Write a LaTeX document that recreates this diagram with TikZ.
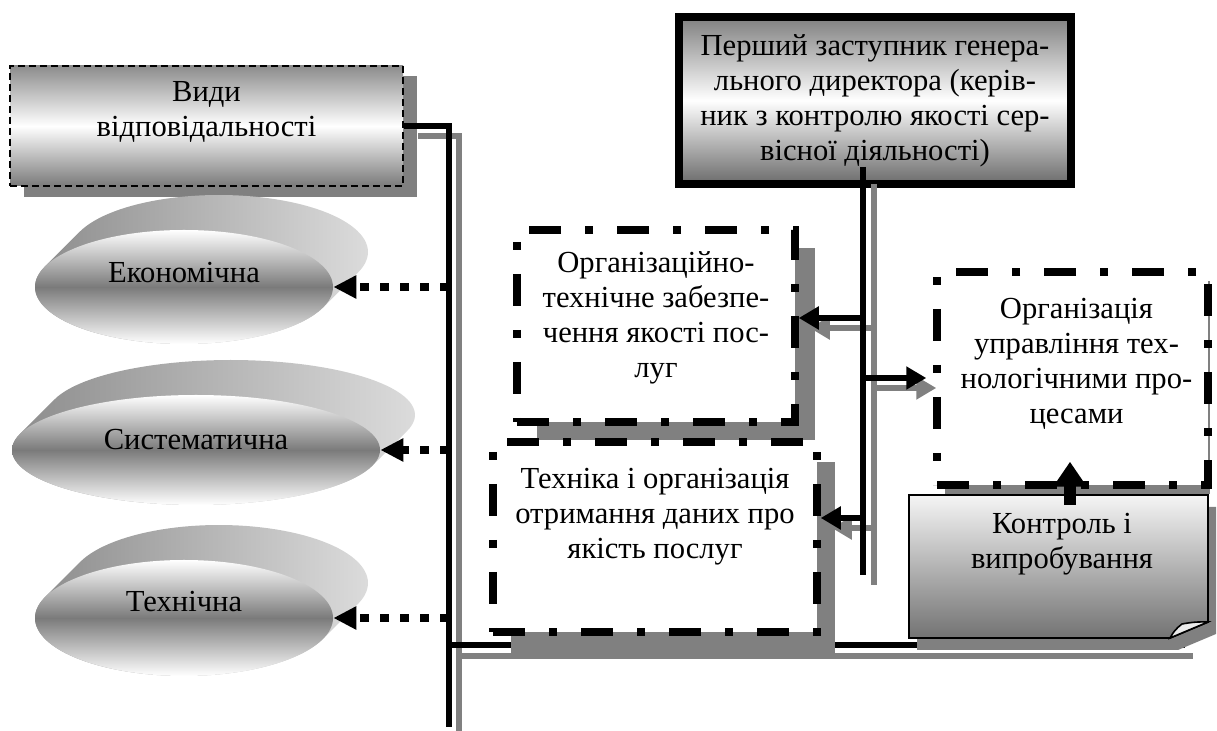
\documentclass[tikz,border=0pt]{standalone}
\usepackage{fontspec}
\setmainfont{Liberation Serif}
\usetikzlibrary{shapes.geometric,arrows.meta,calc}
\definecolor{shd}{HTML}{808080}
\newcommand\ovalbody[4]{%
  \pgfmathsetmacro\ovtz{atan(#4/#3)}%
  \shade[left color=black!45,right color=black!14]
    plot[domain=\ovtz:\ovtz+180,samples=60] ({#1+#3*cos(\x)},{#2+#4*sin(\x)})
    -- plot[domain=\ovtz+180:\ovtz+360,samples=60] ({#1+35+#3*cos(\x)},{#2-35+#4*sin(\x)})
    -- cycle;}
\begin{document}
\begin{tikzpicture}[x=0.5pt,y=-0.5pt,
  txt/.style={font=\fontsize{15.3}{17.5}\selectfont,align=center,inner sep=0pt},
  vbox/.style={draw,line width=1.2pt,dash pattern=on 3.5pt off 2pt,top color=black!45,bottom color=black!52,middle color=white,minimum width=196.5pt,minimum height=60pt,inner sep=0pt},
  dirbox/.style={draw,line width=4pt,top color=black!50,bottom color=black!58,middle color=white,minimum width=196pt,minimum height=83.5pt,inner sep=0pt,txt},
  ddbox/.style={draw,fill=white,line width=3.75pt,dash pattern=on 16pt off 12pt on 4pt off 12pt,inner sep=0pt},
  oval/.style={ellipse,inner sep=0pt,top color=white,bottom color=white,middle color=black!52},
  blk/.style={line width=3.4pt,black},
  gry/.style={line width=2.8pt,shd},
  barr/.style={blk,-{Triangle[length=10pt,width=11pt]}},
  garr/.style={gry,-{Triangle[length=10pt,width=11pt]}},
  dotarr/.style={line width=4pt,dash pattern=on 4.75pt off 5.25pt,-{Triangle[length=11.5pt,width=11pt]}},
  bigarr/.style={line width=6pt,-{Triangle[length=12.5pt,width=16pt]}}
]
\useasboundingbox (0,0) rectangle (1217,731);

% --- Види відповідальності
\fill[shd] (24,76) rectangle (417,197);
\node[vbox,label={[txt,yshift=7pt]center:{Види\\відповідальності}}] (vidy) at (206.5,126) {};

% --- top box
\node[dirbox] (dir) at (875,100.5) {Перший заступник генера-\\льного директора (керів-\\ник з контролю якості сер-\\вісної діяльності)};

% --- ellipses
\ovalbody{184}{287}{149}{57}
\node[oval,minimum width=149pt,minimum height=57pt,label={[txt,yshift=7pt]center:Економічна}] (eko) at (184,287) {};
\ovalbody{196}{450}{184}{55}
\node[oval,minimum width=184pt,minimum height=55pt,label={[txt,yshift=5pt]center:Систематична}] (sys) at (196,450) {};
\ovalbody{184}{618}{149}{58}
\node[oval,minimum width=149pt,minimum height=58pt,label={[txt,yshift=8pt]center:Технічна}] (tec) at (184,618) {};

% --- left connectors
\coordinate (lbot) at (449,727);
\coordinate (lv) at (449,400);
\coordinate (bj) at (449,645);
\coordinate (bend) at (1185,645);
\draw[gry] ($(vidy.east)+(14,10)$) -| ($(lbot)+(10,10)$);
\draw[gry] ($(bj)+(10,11)$) -- ($(bend)+(8,11)$);
\draw[blk] (vidy.east) -| (lbot);
\draw[blk] (bj) -- (bend);
\draw[dotarr] (eko.east -| lv) -- (eko.east);
\draw[dotarr] (sys.east -| lv) -- (sys.east);
\draw[dotarr] (tec.east -| lv) -- (tec.east);

% --- shadows of right boxes
\fill[shd] (537,248) rectangle (815,440);
\fill[shd] (511,462) rectangle (835,655);
\fill[shd] (945,281) rectangle (1210,494);
\fill[shd] (917,507) -- (1216,507) -- (1216,634) -- (1178,650) -- (917,650) -- cycle;

% --- right boxes
\node[ddbox,minimum width=139pt,minimum height=96pt,label={[txt,yshift=4.25pt]center:{Організаційно-\\технічне забезпе-\\чення якості пос-\\луг}}] (org) at (656,326) {};
\node[ddbox,minimum width=162pt,minimum height=95pt,label={[txt,yshift=10pt]center:{Техніка і організація\\отримання даних про\\якість послуг}}] (dat) at (655,537) {};
\node[ddbox,minimum width=135.5pt,minimum height=106.5pt,label={[txt,yshift=7.5pt,xshift=2pt]center:{Організація\\управління тех-\\нологічними про-\\цесами}}] (proc) at (1072.5,378.5) {};

% --- Контроль і випробування (note with folded corner)
\shade[top color=black!4,bottom color=black!55,draw=black,line width=0.9pt]
  (909,495) -- (1208,495) -- (1208,622) -- (1170,638) -- (909,638) -- cycle;
\node[minimum width=149.5pt,minimum height=71.5pt,inner sep=0pt,label={[txt,yshift=11.25pt,xshift=1.75pt]center:{Контроль і\\випробування}}] (ctl) at (1058.5,566.5) {};
\draw[fill=black!8,line width=0.8pt] (1170,638) to[bend left=12] (1182,624) to[bend left=6] (1208,622) -- cycle;

% --- right connectors
\coordinate (rtop) at (863,167);
\coordinate (rbot) at (863,575);
\coordinate (j1) at (863,318);
\coordinate (j2) at (863,378);
\coordinate (j3) at (863,518);
\draw[gry] ($(rtop)+(11,17)$) -- ($(rbot)+(11,10)$);
\draw[garr] ($(j1)+(11,10)$) -- ($(j1 -| org.east)+(11,10)$);
\draw[garr] ($(j2)+(11,10)$) -- ($(j2 -| proc.west)+(3,10)$);
\draw[garr] ($(j3)+(11,10)$) -- ($(j3 -| dat.east)+(11,10)$);
\draw[blk] (rtop) -- (rbot);
\draw[barr] (j1) -- (j1 -| org.east);
\draw[barr] (j2) -- ($(j2 -| proc.west)+(-7,0)$);
\draw[barr] (j3) -- (j3 -| dat.east);
\draw[bigarr] ($(ctl.north)+(11.5,10)$) -- ($(proc.south)+(-2.5,-27)$);
\end{tikzpicture}
\end{document}
